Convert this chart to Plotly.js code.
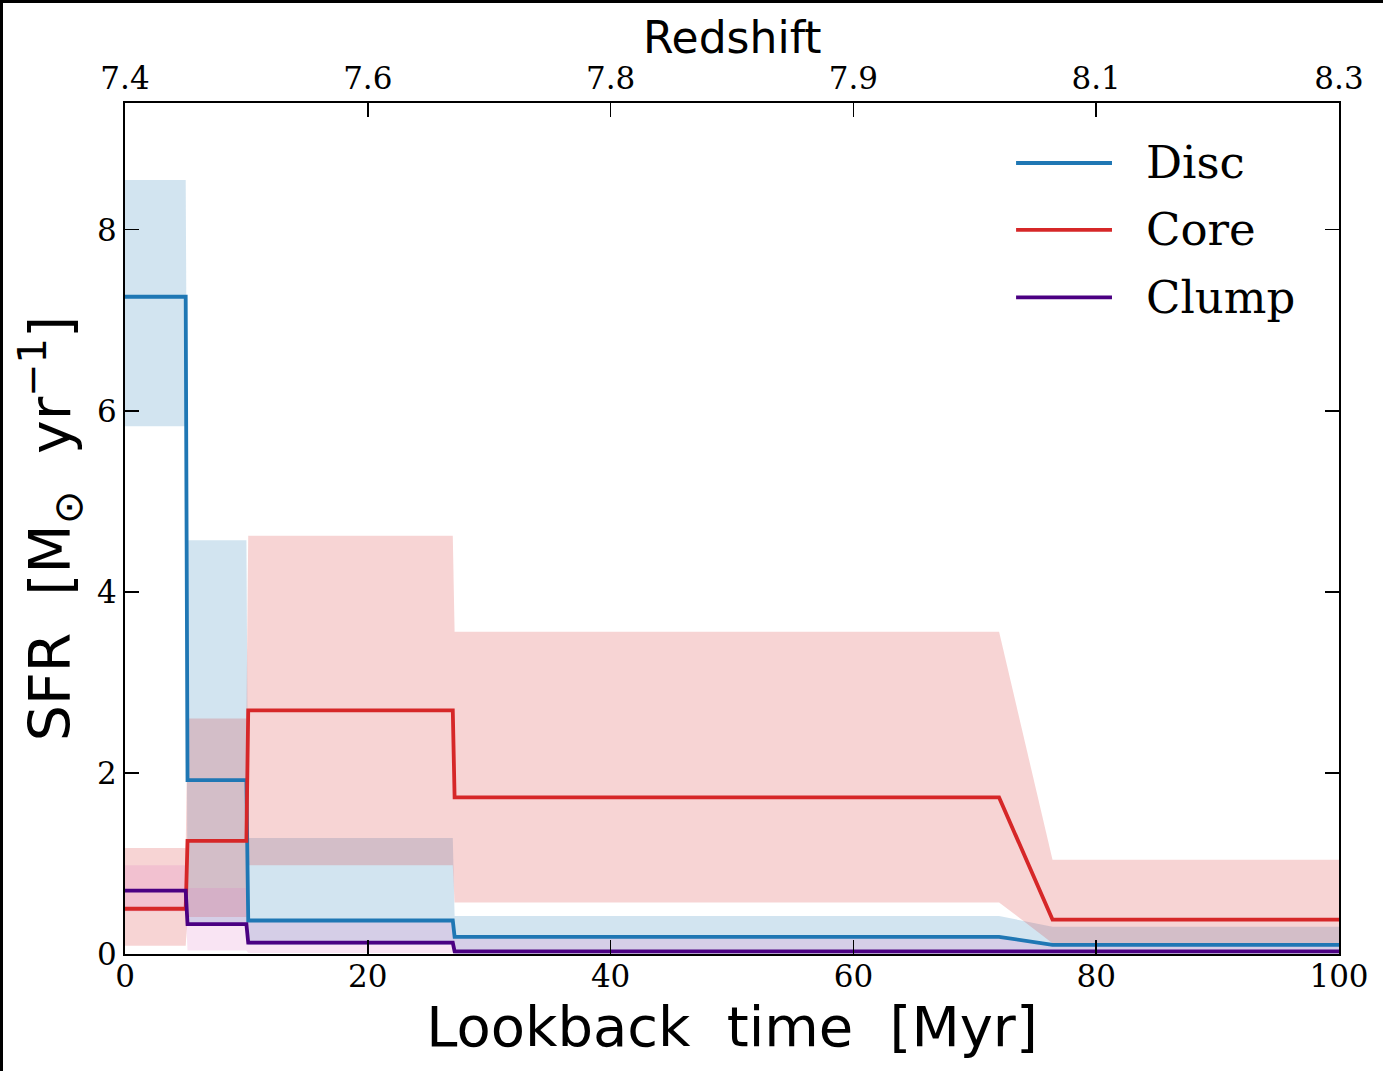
<!DOCTYPE html>
<html><head><meta charset="utf-8">
<script src="https://cdn.plot.ly/plotly-3.0.1.min.js"></script>
<style>
html,body{margin:0;padding:0;background:#fff;}
#wrap{position:relative;width:1383px;height:1071px;}
#chart{width:1383px;height:1071px;}
.bar{position:absolute;background:#000;}
</style>
</head><body>
<div id="wrap"><div id="chart"></div>
<div class="bar" style="left:0;top:0;width:1383px;height:3px"></div>
<div class="bar" style="left:0;top:0;width:3px;height:1071px"></div>
</div>
<script>
// Data (lookback time in Myr, SFR in Msun/yr)
const lookbackTime = [0, 5, 5.15, 10, 10.15, 27, 27.15, 72, 76.4, 100];
const discMedian  = [7.26, 7.26, 1.92, 1.92, 0.37, 0.37, 0.19, 0.19, 0.10, 0.10];
const discLow     = [5.83, 5.83, 0.34, 0.34, 0.10, 0.10, 0.00, 0.00, 0.00, 0.00];
const discHigh    = [8.55, 8.55, 4.57, 4.57, 1.28, 1.28, 0.42, 0.42, 0.30, 0.30];
const coreMedian  = [0.50, 0.50, 1.25, 1.25, 2.69, 2.69, 1.73, 1.73, 0.38, 0.38];
const coreLow     = [0.09, 0.09, 0.41, 0.41, 0.98, 0.98, 0.57, 0.57, 0.12, 0.12];
const coreHigh    = [1.17, 1.17, 2.60, 2.60, 4.62, 4.62, 3.56, 3.56, 1.04, 1.04];
const clumpMedian = [0.70, 0.70, 0.33, 0.33, 0.125, 0.125, 0.03, 0.03, 0.03, 0.03];
const clumpLow    = [0.47, 0.47, 0.04, 0.04, 0.01, 0.01, 0.00, 0.00, 0.00, 0.00];
const clumpHigh   = [0.98, 0.98, 0.73, 0.73, 0.38, 0.38, 0.20, 0.20, 0.10, 0.10];
const seriesNames = ['Disc', 'Core', 'Clump'];
const xTicks = [0, 20, 40, 60, 80, 100];
const redshiftLabels = ['7.4', '7.6', '7.8', '7.9', '8.1', '8.3'];
const yTicks = [0, 2, 4, 6, 8];

const lineColors = ['#1f77b4', '#d62728', '#4b0082'];
const bandColors = ['rgba(31,119,180,0.2)', 'rgba(214,39,40,0.2)', 'rgba(227,119,194,0.2)'];
const medians = [discMedian, coreMedian, clumpMedian];
const lows = [discLow, coreLow, clumpLow];
const highs = [discHigh, coreHigh, clumpHigh];

const traces = [];
for (let i = 0; i < 3; i++) {
  traces.push({x: lookbackTime, y: lows[i], mode: 'lines', line: {width: 0, color: bandColors[i]}, hoverinfo: 'skip', showlegend: false});
  traces.push({x: lookbackTime, y: highs[i], mode: 'lines', line: {width: 0, color: bandColors[i]}, fill: 'tonexty', fillcolor: bandColors[i], hoverinfo: 'skip', showlegend: false});
}
for (let i = 0; i < 3; i++) {
  traces.push({x: lookbackTime, y: medians[i], mode: 'lines', name: seriesNames[i], line: {width: 3.8, color: lineColors[i]}, showlegend: false});
}
traces.push({x: [xTicks[0], xTicks[xTicks.length-1]], y: [null, null], xaxis: 'x2', mode: 'lines', showlegend: false, hoverinfo: 'skip'});

const legY = [0.9295, 0.8508, 0.7715];
const shapes = [], annotations = [];
for (let i = 0; i < 3; i++) {
  shapes.push({type: 'line', xref: 'paper', yref: 'paper', x0: 0.734, x1: 0.813, y0: legY[i], y1: legY[i], line: {color: lineColors[i], width: 3.8}});
  annotations.push({xref: 'paper', yref: 'paper', x: 0.839, y: legY[i], xanchor: 'left', yanchor: 'middle', text: seriesNames[i], showarrow: false, font: {family: 'DejaVu Serif', size: 45, color: '#000'}});
}
annotations.push({xref: 'paper', yref: 'paper', x: 0.5, y: 1.0764, xanchor: 'center', yanchor: 'middle', text: 'Redshift', showarrow: false, font: {family: 'DejaVu Sans', size: 44, color: '#000'}});

const tickFont = {family: 'DejaVu Serif', size: 31, color: '#000'};
const layout = {
  width: 1383, height: 1071,
  margin: {l: 125, r: 44, t: 103, b: 117, pad: 0},
  paper_bgcolor: '#fff', plot_bgcolor: '#fff',
  showlegend: false,
  xaxis: {
    range: [0, 100], tickvals: xTicks, ticktext: xTicks.map(String),
    ticks: 'inside', ticklen: 14, tickwidth: 1.5, tickcolor: '#000',
    showline: true, linewidth: 2, linecolor: '#000', mirror: 'ticks',
    showgrid: false, zeroline: false, tickfont: tickFont, ticklabelstandoff: -6,
    title: {text: 'Lookback\u2004 time\u2004 [Myr]', font: {family: 'DejaVu Sans', size: 56, color: '#000'}, standoff: 12}
  },
  xaxis2: {
    overlaying: 'x', side: 'top', anchor: 'y', range: [0, 100],
    tickvals: xTicks, ticktext: redshiftLabels, ticks: '',
    showline: false, showgrid: false, zeroline: false, tickfont: tickFont, ticklabelstandoff: 7
  },
  yaxis: {
    range: [0, 9.4], tickvals: yTicks, ticktext: yTicks.map(String),
    ticks: 'inside', ticklen: 14, tickwidth: 1.5, tickcolor: '#000',
    showline: true, linewidth: 2, linecolor: '#000', mirror: 'ticks',
    showgrid: false, zeroline: false, tickfont: tickFont,
    title: {text: 'SFR\u2004 [M<sub>⊙</sub>\u2004 yr<sup>−1</sup>]', font: {family: 'DejaVu Sans', size: 57, color: '#000'}, standoff: 8}
  },
  shapes: shapes,
  annotations: annotations
};
Plotly.newPlot('chart', traces, layout, {displayModeBar: false, staticPlot: true});
</script>
</body></html>
